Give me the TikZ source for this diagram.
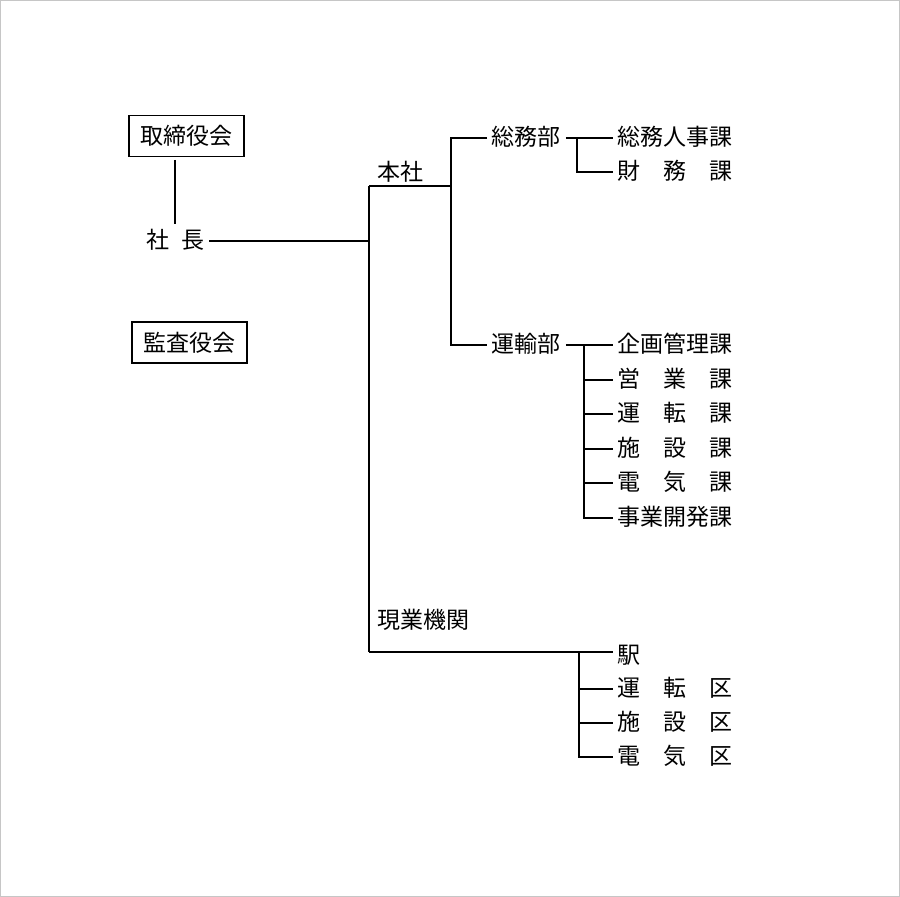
\documentclass[tikz,border=0pt]{standalone}
\usepackage{fontspec}
\newfontfamily\jpfont{Noto Sans CJK JP}

\begin{document}
\begin{tikzpicture}[
  x=0.5pt, y=-0.5pt, line width=0.9pt,
  every node/.style={font=\jpfont\fontsize{11.5}{13}\selectfont},
  post/.style={draw, minimum width=57.5pt, minimum height=20.5pt, inner sep=0pt},
  unit/.style={anchor=west, inner xsep=2pt, inner ysep=1pt,
               text height=0.85em, text depth=0.1em}]
  \useasboundingbox (0,0) rectangle (900,897);
  \draw[gray!45, line width=0.6pt] (0.5,0.5) rectangle (899.5,896.5);

  % top level
  \node[post] (board) at (186.5,136) {取締役会};
  \node[post] (audit) at (189.5,342.5) {監査役会};
  \node[unit] (president) at (142,241) {社\hspace{0.5em}長};

  % head office and field offices
  \node[unit] (honsha) at (373,173) {本社};
  \node[unit] (genba) at (373,621) {現業機関};
  \node[unit] (somubu) at (487,138) {総務部};
  \node[unit] (unyubu) at (487,345) {運輸部};

  % sections
  \node[unit] (somujinji) at (613,138) {総務人事課};
  \node[unit] (zaimu) at (613,172) {財　務　課};
  \node[unit] (kikaku) at (613,345) {企画管理課};
  \node[unit] (eigyo) at (613,380) {営　業　課};
  \node[unit] (untenka) at (613,414) {運　転　課};
  \node[unit] (shisetsuka) at (613,449) {施　設　課};
  \node[unit] (denkika) at (613,483) {電　気　課};
  \node[unit] (jigyo) at (613,518) {事業開発課};
  \node[unit] (eki) at (613,656) {駅};
  \node[unit] (untenku) at (613,689) {運　転　区};
  \node[unit] (shisetsuku) at (613,723) {施　設　区};
  \node[unit] (denkiku) at (613,757) {電　気　区};

  \coordinate (hq) at (369,186);
  \coordinate (field) at (369,652);
  \coordinate (hqfork) at (451,186);
  \coordinate (somufork) at (577,138);
  \coordinate (unyufork) at (584,345);
  \coordinate (genbafork) at (579,652);

  % connectors
  \draw ([xshift=-5.75pt, yshift=-1.25pt]board.south)
        -- ([xshift=-5.75pt, yshift=2.5pt]board.south |- president.north);
  \draw (president.east) -- (president.east -| hq);
  \draw (hq) -- (field);
  \draw (hq) -- (hqfork);
  \draw (somubu.west) -| (hqfork) |- (unyubu.west);
  \draw (somubu.east) -- (somujinji.west);
  \draw (somufork) |- (zaimu.west);
  \draw (unyubu.east) -- (kikaku.west);
  \draw (unyufork) |- (jigyo.west);
  \foreach \n in {eigyo, untenka, shisetsuka, denkika}
    \draw (unyufork |- \n.west) -- (\n.west);
  \draw (field) -- (field -| eki.west);
  \draw (genbafork) |- (denkiku.west);
  \foreach \n in {untenku, shisetsuku}
    \draw (genbafork |- \n.west) -- (\n.west);
\end{tikzpicture}
\end{document}
